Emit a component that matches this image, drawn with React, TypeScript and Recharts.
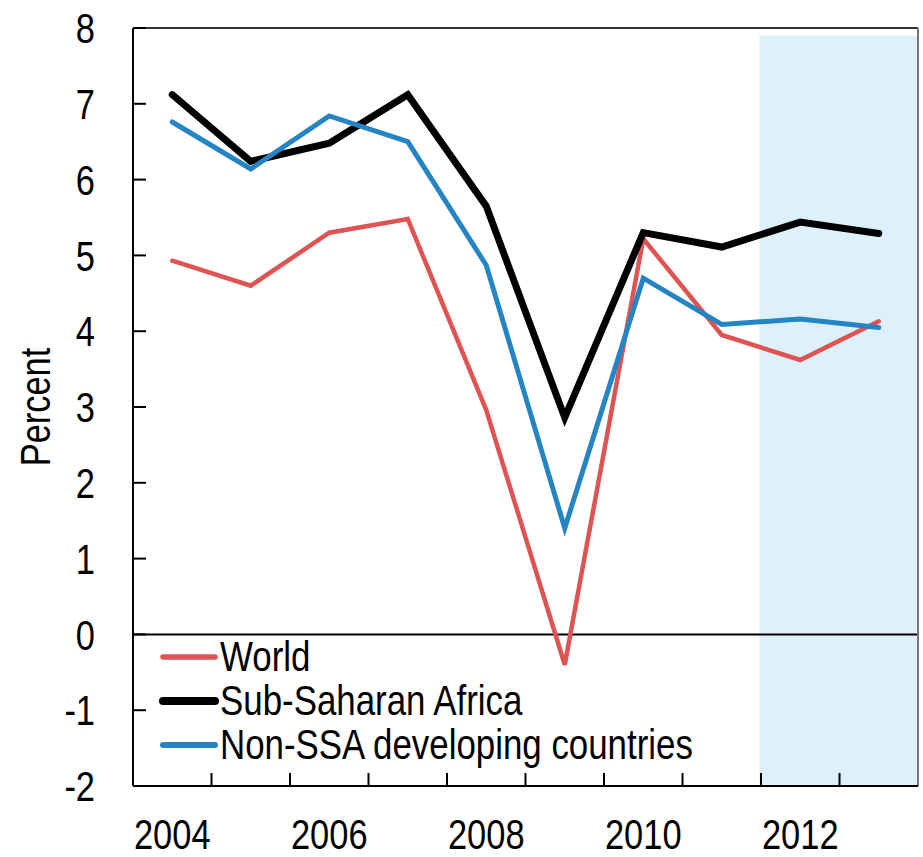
import React from "react";
import {
  LineChart,
  Line,
  XAxis,
  YAxis,
  ReferenceLine,
  ReferenceArea,
  Legend,
} from "recharts";

const years = [2004, 2005, 2006, 2007, 2008, 2009, 2010, 2011, 2012, 2013];
const world = [4.93, 4.6, 5.3, 5.48, 2.96, -0.4, 5.22, 3.95, 3.62, 4.13];
const ssa = [7.12, 6.24, 6.48, 7.12, 5.65, 2.86, 5.3, 5.11, 5.44, 5.29];
const nonSsa = [6.76, 6.14, 6.84, 6.5, 4.87, 1.4, 4.7, 4.09, 4.16, 4.05];
const projectionYears = [2012, 2013];
const yTicks = [-2, -1, 0, 1, 2, 3, 4, 5, 6, 7, 8];

const series = [
  { key: "world", name: "World", color: "#df5353", width: 4.5 },
  { key: "ssa", name: "Sub-Saharan Africa", color: "#000000", width: 7 },
  { key: "nonSsa", name: "Non-SSA developing countries", color: "#2584c4", width: 5 },
];

const data = years.map((year, i) => ({
  year,
  world: world[i],
  ssa: ssa[i],
  nonSsa: nonSsa[i],
}));

// labels on the years, short marks between them
const xTicks = years.flatMap((y) => [y, y + 0.5]).filter((v) => v < 2013.5);

// no narrow font installed: squeeze Liberation Sans instead
const FONT = "'Liberation Sans', Arial, sans-serif";
const SQUEEZE = 0.82;

const YearTick = (props: any) => {
  const { x, y, payload } = props;
  const v = payload.value;
  if (v % 1 !== 0) {
    return <line x1={x} x2={x} y1={y} y2={y - 13} stroke="#000" strokeWidth={2} />;
  }
  if (v % 2 !== 0) return <g />;
  return (
    <text
      transform={`translate(${x},${y + 63}) scale(${SQUEEZE},1)`}
      textAnchor="middle"
      fontSize={42}
      fontFamily={FONT}
      fill="#000"
    >
      {v}
    </text>
  );
};

const ValueTick = (props: any) => {
  const { x, y, payload } = props;
  return (
    <text
      transform={`translate(${x},${y}) scale(${SQUEEZE},1)`}
      textAnchor="end"
      dy="0.36em"
      fontSize={42}
      fontFamily={FONT}
      fill="#000"
    >
      {payload.value}
    </text>
  );
};

const PercentLabel = (props: any) => {
  const { viewBox } = props;
  const cy = viewBox.y + viewBox.height / 2;
  return (
    <text
      transform={`translate(50,${cy}) rotate(-90) scale(${SQUEEZE},1)`}
      textAnchor="middle"
      fontSize={42}
      fontFamily={FONT}
      fill="#000"
    >
      Percent
    </text>
  );
};

const LegendBox = () => (
  <div style={{ fontFamily: FONT, fontSize: 42, color: "#000" }}>
    {series.map((s) => (
      <div key={s.key} style={{ display: "flex", alignItems: "center", height: 44 }}>
        <svg width={62} height={14}>
          <line
            x1={5}
            x2={57}
            y1={7}
            y2={7}
            stroke={s.color}
            strokeWidth={s.width + 1}
            strokeLinecap="round"
          />
        </svg>
        <span
          style={{
            display: "inline-block",
            whiteSpace: "nowrap",
            lineHeight: "44px",
            height: 44,
            transform: "scaleX(0.83)",
            transformOrigin: "left center",
          }}
        >
          {s.name}
        </span>
      </div>
    ))}
  </div>
);

export default function App() {
  return (
    <div style={{ position: "absolute", left: 0, top: 0 }}>
      <LineChart
        width={923}
        height={857}
        data={data}
        margin={{ top: 28, right: 5, bottom: 0, left: 0 }}
      >
        <ReferenceArea
          x1={projectionYears[0] - 0.52}
          x2={projectionYears[projectionYears.length - 1] + 0.5}
          y1={-2}
          y2={7.9}
          fill="#dff0fd"
          fillOpacity={1}
          stroke="none"
        />
        <XAxis
          dataKey="year"
          type="number"
          domain={[2003.5, 2013.5]}
          ticks={xTicks}
          interval={0}
          tickLine={false}
          tickSize={0}
          tickMargin={0}
          height={71}
          tick={<YearTick />}
          axisLine={{ stroke: "#000", strokeWidth: 2 }}
        />
        <YAxis
          domain={[-2, 8]}
          ticks={yTicks}
          interval={0}
          width={133}
          tickSize={-13}
          tickMargin={51}
          tickLine={{ stroke: "#000", strokeWidth: 2 }}
          axisLine={{ stroke: "#000", strokeWidth: 2 }}
          tick={<ValueTick />}
          label={<PercentLabel />}
        />
        <ReferenceLine y={0} stroke="#000" strokeWidth={2} />
        <ReferenceLine y={8} stroke="#333" strokeWidth={2} />
        <ReferenceLine x={2013.5} stroke="#777" strokeWidth={2} />
        {series.map((s) => (
          <Line
            key={s.key}
            dataKey={s.key}
            name={s.name}
            type="linear"
            stroke={s.color}
            strokeWidth={s.width}
            strokeLinecap="round"
            dot={false}
            activeDot={false}
            isAnimationActive={false}
          />
        ))}
        <Legend
          layout="vertical"
          align="center"
          verticalAlign="middle"
          content={<LegendBox />}
          wrapperStyle={{ left: 158, top: 635, width: "auto", height: "auto" }}
        />
      </LineChart>
    </div>
  );
}
